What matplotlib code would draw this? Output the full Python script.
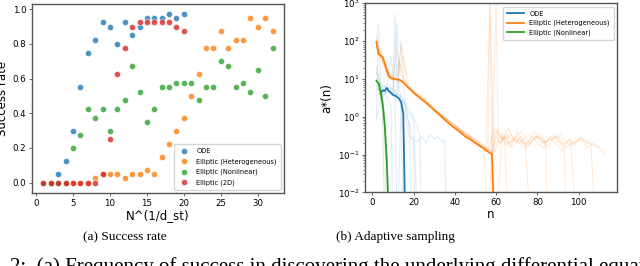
import numpy as np
import matplotlib
matplotlib.use("Agg")
import matplotlib.pyplot as plt

# ---- (a) success rate data ----
ode_x = [1, 2, 3, 4, 5, 6, 7, 8, 9, 10, 11, 12, 13, 14, 15, 16, 17, 18, 19, 20]
ode_y = [0.0, 0.0, 0.05, 0.125, 0.3, 0.55, 0.75, 0.825, 0.925, 0.9, 0.8, 0.925,
         0.85, 0.9, 0.95, 0.95, 0.95, 0.975, 0.95, 0.975]

het_x = list(range(1, 33))
het_y = [0.0, 0.0, 0.0, 0.0, 0.0, 0.0, 0.0, 0.025, 0.05, 0.05, 0.05, 0.025, 0.05,
         0.05, 0.075, 0.05, 0.15, 0.225, 0.3, 0.375, 0.5, 0.625, 0.775, 0.775,
         0.875, 0.775, 0.825, 0.825, 0.95, 0.9, 0.95, 0.875]

nl_x = list(range(1, 33))
nl_y = [0.0, 0.0, 0.0, 0.0, 0.2, 0.275, 0.425, 0.375, 0.425, 0.3, 0.425, 0.475,
        0.675, 0.525, 0.35, 0.425, 0.55, 0.55, 0.575, 0.575, 0.575, 0.475, 0.55,
        0.55, 0.7, 0.675, 0.55, 0.575, 0.525, 0.65, 0.5, 0.775]

d2_x = list(range(1, 21))
d2_y = [0.0, 0.0, 0.0, 0.0, 0.0, 0.0, 0.0, 0.0, 0.05, 0.25, 0.625, 0.775, 0.9,
        0.925, 0.925, 0.925, 0.925, 0.925, 0.9, 0.875]

# ---- (b) adaptive sampling data (mean curves) ----
ode_n = [4, 5, 6, 7, 8, 9, 10, 11, 12, 13, 14, 15, 16]
ode_a = [4.2, 5.0, 4.8, 5.8, 4.8, 4.3, 3.8, 3.6, 3.3, 3.0, 2.4, 1.2, 0.001]

het_n = [2, 3, 4, 5, 6, 7, 8, 9, 10, 11, 12, 13, 14, 15, 16, 18, 20, 22, 25, 28,
         30, 32, 35, 38, 40, 43, 45, 48, 50, 52, 55, 57, 58, 59]
het_a = [95, 45, 42, 38, 26, 17, 12, 10.5, 10, 10, 9.8, 9.5, 9, 8, 7, 5.5, 4.3,
         3.5, 2.6, 1.9, 1.5, 1.2, 0.85, 0.6, 0.5, 0.37, 0.3, 0.24, 0.2, 0.17,
         0.13, 0.11, 0.1, 0.001]

nl_n = [2, 3, 4, 5, 6, 7, 8]
nl_a = [9, 7.5, 4.5, 2.2, 0.6, 0.07, 0.002]

# ---- (b) individual runs (faint) ----
ode_runs = [
    ([2, 3, 4, 5, 6, 8, 10, 12, 13, 14, 16, 18, 19],
     [1.0, 300, 6, 5, 4, 5, 4, 300, 5, 3, 2, 0.5, 0.001]),
    ([3, 4, 6, 8, 10, 11, 12, 14, 16, 18, 20, 22],
     [5, 8, 6, 7, 5, 500, 4, 3, 2, 1.2, 0.8, 0.001]),
    ([4, 5, 7, 9, 10],
     [3, 4, 3.5, 2, 0.001]),
    ([5, 7, 9, 11, 12, 14, 16, 18, 20, 22, 24, 26, 28, 30, 32, 34, 35, 36],
     [4, 5, 4, 3, 0.001, 2, 1.0, 0.3, 0.25, 0.22, 0.3, 0.2, 0.35, 0.25, 0.3,
      0.2, 0.25, 0.001]),
    ([4, 6, 8, 10, 12, 14, 16, 18, 20, 22, 23, 24],
     [6, 5, 6, 5, 4, 3.5, 2.5, 1.5, 1.0, 0.5, 0.3, 0.001]),
    ([3, 5, 7, 9, 11, 13, 14, 15],
     [8, 6, 7, 40, 4, 3, 1.5, 0.001]),
    ([2, 4, 6, 8, 10, 12, 14, 16, 18, 20, 21],
     [0.8, 3, 4, 5, 4.5, 3.5, 100, 1.5, 0.6, 0.2, 0.001]),
]

het_runs = [
    ([2, 3, 5, 7, 9, 11, 13, 15, 18, 22, 26, 30, 35, 40, 45, 50, 55, 58, 60, 62,
      65, 68, 71, 74, 77, 80, 83, 86, 89, 92, 95, 98, 101, 104, 107, 110, 113],
     [150, 60, 45, 18, 12, 11, 30, 10, 6, 4, 3, 1.7, 1.0, 0.6, 0.35, 0.22, 0.15,
      0.12, 0.3, 0.2, 0.35, 0.15, 0.25, 0.18, 0.3, 0.2, 0.15, 0.28, 0.2, 0.12,
      0.25, 0.18, 0.3, 0.15, 0.2, 0.15, 0.1]),
    ([2, 4, 6, 8, 10, 12, 14, 16, 20, 25, 30, 35, 40, 45, 50, 55, 57, 58, 60,
      63, 66, 69, 72, 75, 78, 81, 84, 85],
     [80, 35, 20, 10, 9, 60, 12, 8, 4.5, 2.8, 1.6, 0.9, 0.55, 0.35, 0.22, 0.14,
      1000, 0.1, 0.4, 0.25, 0.5, 0.2, 0.3, 0.15, 0.25, 0.35, 0.2, 0.001]),
    ([2, 3, 5, 7, 9, 12, 15, 18, 22, 26, 30, 35, 40, 45, 50, 55, 58, 60, 61,
      64, 67, 70, 73, 76, 79, 82, 85, 88, 91, 93, 94],
     [120, 50, 35, 15, 11, 10, 40, 6, 3.8, 2.6, 1.5, 0.9, 0.55, 0.33, 0.2, 0.14,
      0.1, 1000, 0.2, 0.3, 0.15, 0.4, 0.22, 0.18, 0.3, 0.25, 0.15, 0.3, 0.2,
      0.15, 0.001]),
    ([2, 4, 6, 8, 10, 13, 16, 20, 25, 30, 35, 40, 45, 50, 54, 56, 58, 61, 64,
      66],
     [70, 40, 25, 12, 10, 9, 7, 4.2, 2.5, 1.5, 0.95, 0.6, 0.35, 0.25, 0.18,
      0.001, 0.3, 0.45, 0.25, 0.001]),
    ([3, 5, 8, 12, 16, 20, 25, 30, 35, 40, 45, 50, 55, 58, 60, 63, 66, 70, 74,
      77],
     [60, 30, 11, 9, 7, 4, 2.4, 1.4, 0.8, 0.5, 0.4, 0.25, 0.15, 0.12, 0.001,
      0.35, 0.2, 0.28, 0.18, 0.001]),
    ([56, 57, 59, 62, 65, 68, 72, 76, 80, 84, 88, 92, 96, 99],
     [0.15, 1000, 0.12, 0.3, 0.18, 0.25, 0.4, 0.2, 0.3, 0.22, 0.35, 0.18, 0.25,
      0.001]),
    ([2, 4, 6, 9, 12, 14, 17, 21, 24, 28, 32, 36, 40, 44, 48, 52, 56, 59, 63,
      67, 71, 75, 79, 83, 87, 91, 95, 100, 105, 110],
     [110, 50, 30, 12, 9, 80, 6, 4, 3, 2, 1.3, 0.9, 0.6, 0.4, 0.28, 0.18, 0.13,
      0.5, 0.25, 0.35, 0.2, 0.3, 0.4, 0.2, 0.25, 0.35, 0.18, 0.25, 0.2, 0.15]),
    ([3, 6, 9, 12, 15, 19, 23, 27, 31, 35, 39, 43, 47, 51, 55, 58, 62, 66, 70,
      74, 78, 82, 86, 90, 94, 98, 102, 106, 108],
     [50, 22, 11, 9, 8, 5, 3.3, 2.2, 1.4, 0.95, 0.65, 0.42, 0.3, 0.2, 0.14,
      0.11, 0.2, 0.3, 0.22, 0.15, 0.35, 0.2, 0.25, 0.3, 0.15, 0.2, 0.28, 0.18,
      0.001]),
]

nl_runs = [
    ([2, 3, 4, 5, 6, 7], [20, 12, 6, 3, 0.5, 0.001]),
    ([2, 3, 4, 5, 6, 7, 8], [15, 10, 5, 2.8, 1.0, 0.1, 0.001]),
    ([2, 3, 4, 5, 6], [6, 5, 3, 1.0, 0.001]),
]

ode_c, het_c, nl_c, d2_c = "#1f77b4", "#ff7f0e", "#2ca02c", "#d62728"
spine_c = "#555555"

fig = plt.figure(figsize=(6.4, 2.66), dpi=100)
W, H = 640.0, 266.0

def box(l, t, r, b):
    return [l / W, 1 - b / H, (r - l) / W, (b - t) / H]

# ---- left panel ----
ax1 = fig.add_axes(box(32, 4, 284, 193))
kw = dict(s=20, alpha=0.8, edgecolors="white", linewidths=0.5)
ax1.scatter(ode_x, ode_y, color=ode_c, label="ODE", **kw)
ax1.scatter(het_x, het_y, color=het_c, label="Elliptic (Heterogeneous)", **kw)
ax1.scatter(nl_x, nl_y, color=nl_c, label="Elliptic (Nonlinear)", **kw)
ax1.scatter(d2_x, d2_y, color=d2_c, label="Elliptic (2D)", **kw)
ax1.set_xlim(-0.55, 33.55)
ax1.set_ylim(-0.06, 1.03)
ax1.set_xticks([0, 5, 10, 15, 20, 25, 30])
ax1.set_yticks([0.0, 0.2, 0.4, 0.6, 0.8, 1.0])
ax1.set_xlabel("N^(1/d_st)", fontsize=8.5, labelpad=1)
ax1.set_ylabel("Success rate", fontsize=8.5)
ax1.yaxis.set_label_coords(-0.091, 0.5)
ax1.legend(loc="lower right", fontsize=4.8, framealpha=0.8, borderpad=0.6,
           labelspacing=0.6, handletextpad=0.8, markerscale=1.0)

# ---- right panel ----
ax2 = fig.add_axes(box(365, 3.3, 617, 192.3))
for rn, ra in ode_runs:
    ax2.plot(rn, ra, color=ode_c, alpha=0.13, lw=0.8)
for rn, ra in het_runs:
    ax2.plot(rn, ra, color=het_c, alpha=0.15, lw=0.8)
for rn, ra in nl_runs:
    ax2.plot(rn, ra, color=nl_c, alpha=0.18, lw=0.8)
ax2.plot(ode_n, ode_a, color=ode_c, lw=1.3, label="ODE")
ax2.plot(het_n, het_a, color=het_c, lw=1.3, label="Elliptic (Heterogeneous)")
ax2.plot(nl_n, nl_a, color=nl_c, lw=1.3, label="Elliptic (Nonlinear)")
ax2.set_yscale("log")
ax2.set_ylim(1e-2, 1e3)
ax2.set_xlim(-3.55, 118.55)
ax2.set_xticks([0, 20, 40, 60, 80, 100])
ax2.set_xlabel("n", fontsize=8.5, labelpad=1)
ax2.set_ylabel("a*(n)", fontsize=8.5)
ax2.yaxis.set_label_coords(-0.125, 0.5)
ax2.legend(loc="upper right", fontsize=4.8, framealpha=0.8, borderpad=0.6,
           labelspacing=0.5, handlelength=2.5)

for ax in (ax1, ax2):
    ax.tick_params(labelsize=6.2, length=2.5, width=0.6, pad=1.5, color=spine_c)
    ax.tick_params(which="minor", length=1.5, width=0.5, color=spine_c)
    for sp in ax.spines.values():
        sp.set_color(spine_c)
        sp.set_linewidth(1.0)

# captions
serif = ["Liberation Serif", "DejaVu Serif"]
fig.text(125 / W, 1 - 237 / H, "(a) Success rate", ha="center", va="center",
         fontsize=9.5, family=serif)
fig.text(395 / W, 1 - 237 / H, "(b) Adaptive sampling", ha="center",
         va="center", fontsize=9.5, family=serif)
fig.text(10 / W, 1 - 257 / H,
         "2:  (a) Frequency of success in discovering the underlying differential equation fo",
         ha="left", va="top", fontsize=15, family=serif)

fig.savefig("out.png", dpi=100)
